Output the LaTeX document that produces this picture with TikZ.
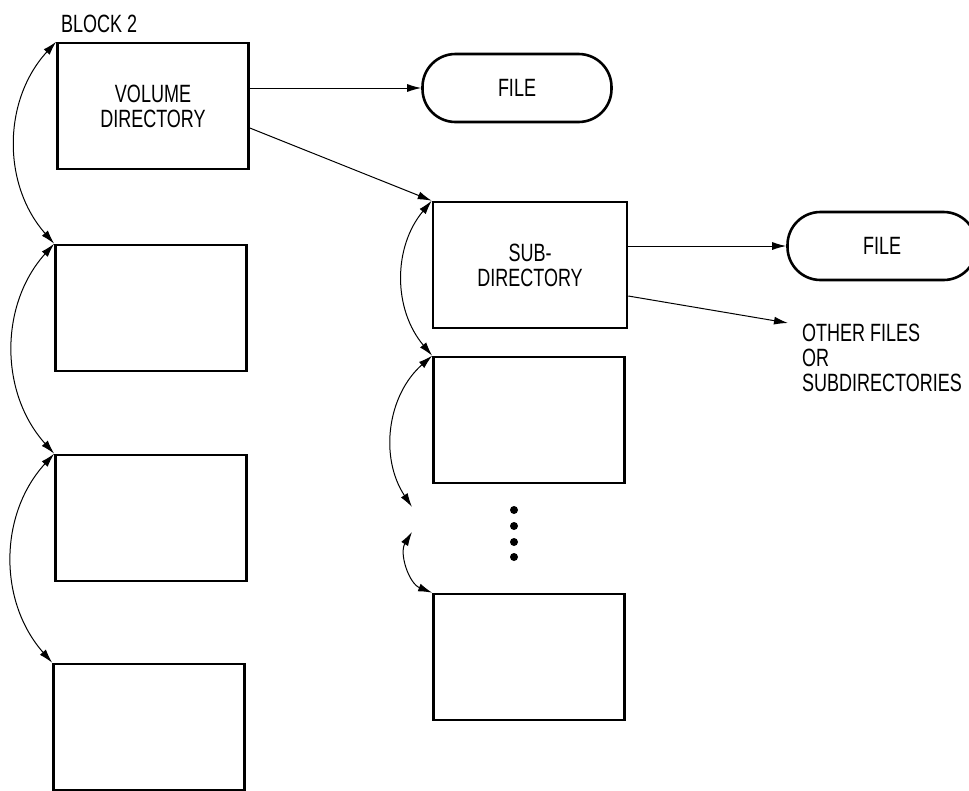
\documentclass[tikz,border=0pt]{standalone}
\usepackage{fontspec}
\setmainfont{Liberation Sans}[FakeStretch=0.72]
\usetikzlibrary{arrows.meta}

\begin{document}
\begin{tikzpicture}[x=1pt,y=-1pt,
        blk/.style={draw,line width=2.6pt,minimum width=191pt,minimum height=126pt,align=center,inner sep=0pt},
        filenode/.style={draw,line width=2.6pt,rounded corners=33pt,minimum width=189pt,minimum height=68pt},
        txt/.style={font=\fontsize{25}{25}\selectfont},
        arr/.style={line width=1pt,-{Latex[length=14pt,width=8pt]}},
        link/.style={line width=1pt,{Latex[length=14pt,width=8pt]}-{Latex[length=14pt,width=8pt]}}]
            \useasboundingbox (0,0) rectangle (969,790);
            \node[txt,anchor=west,inner sep=0pt] (blocklbl) at (61,24) {BLOCK 2};
            \node[blk,txt] (vol) at (153,106) {VOLUME\\DIRECTORY};
            \node[blk] (b2) at (151,308) {};
            \node[blk] (b3) at (151,518) {};
            \node[blk] (b4) at (149,727) {};
            \node[blk,txt,minimum width=194pt] (sub) at (530,265) {SUB-\\DIRECTORY};
            \node[blk] (r2) at (529,420) {};
            \node[blk] (r3) at (529,657) {};
            \node[filenode,txt] (file1) at (517,88) {FILE};
            \node[filenode,txt] (file2) at (882,246) {FILE};
            \node[txt,anchor=north west,inner sep=0pt,align=left] (others) at (802,324) {OTHER FILES\\OR\\SUBDIRECTORIES};
            \coordinate (oth) at (788,323);
            \coordinate (gapa) at (412,507);
            \coordinate (gapb) at (412,532);
            \foreach \y in {510,526,542,557}
                \fill (514,\y) circle (4);
            \draw[arr] (vol.east |- file1.west) -- (file1.west);
            \draw[arr] ([yshift=-22pt]vol.east) -- (sub.north west);
            \draw[arr] (sub.east |- file2.west) -- (file2.west);
            \draw[arr] ([yshift=-31pt]sub.east) -- (oth);
            \draw[link] (vol.north west) to[bend right=42] (b2.north west);
            \draw[link] (b2.north west) to[bend right=42] (b3.north west);
            \draw[link] (b3.north west) to[bend right=42] (b4.north west);
            \draw[link] (sub.north west) to[bend right=40] (r2.north west);
            \draw[link] (r2.north west) to[bend right=41] (gapa);
            \draw[link] (gapb) to[bend right=50] (r3.north west);
\end{tikzpicture}
\end{document}
